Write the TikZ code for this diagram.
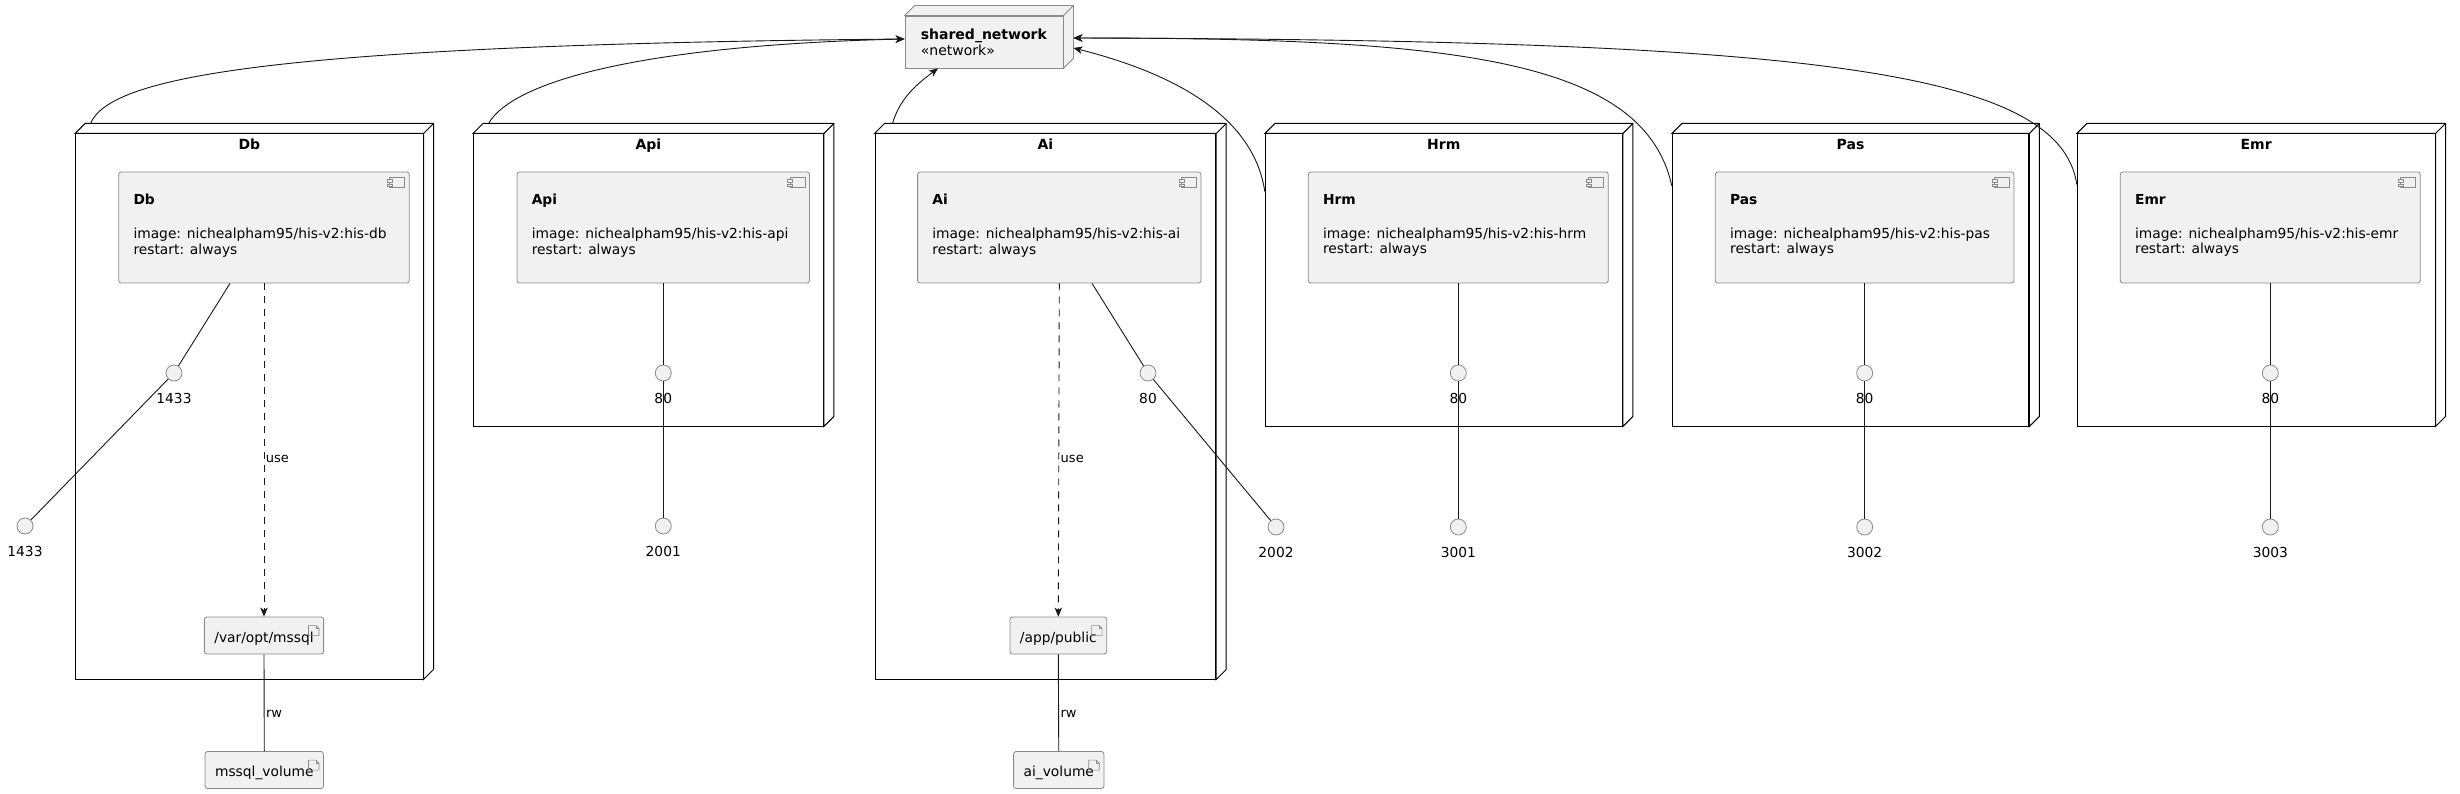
\documentclass[tikz,border=0pt]{standalone}
\usepackage{fontspec}
\setmainfont{DejaVu Sans}
\usetikzlibrary{arrows.meta}
\definecolor{boxfill}{HTML}{F1F1F1}
\definecolor{edgegray}{HTML}{8A8A8A}
\definecolor{linecol}{HTML}{181818}
\newcommand\fsz[1]{\fontsize{#1}{15.6}\selectfont}
\newcommand\threedfaces[2]{%
  \filldraw[#1] (#2.north west) -- ++(10,-10) -| ([shift={(10,-10)}]#2.south east) -- (#2.south east) -- (#2.north east) -- cycle;
  \draw[#1] (#2.north east) -- ++(10,-10);}
\newcommand\compicon[1]{%
  \draw[iconline] ([shift={(-20,5.5)}]#1.north east) rectangle ([shift={(-5,15.5)}]#1.north east);
  \filldraw[iconline, fill=boxfill] ([shift={(-22.5,8)}]#1.north east) rectangle ([shift={(-17.5,10.5)}]#1.north east);
  \filldraw[iconline, fill=boxfill] ([shift={(-22.5,12.5)}]#1.north east) rectangle ([shift={(-17.5,15)}]#1.north east);}
\newcommand\docicon[1]{%
  \draw[iconline] ([shift={(-15.5,9)}]#1.north east) -- ++(0,10) -- ++(10.5,0) -- ++(0,-7) -- ++(-3,-3) -- cycle;
  \draw[iconline] ([shift={(-8,9)}]#1.north east) -- ++(0,3) -- ++(3,0);}
\tikzset{
  box3d/.style={draw=black, line width=1pt, fill=white, inner sep=0pt},
  netbox/.style={draw=edgegray, line width=0.8pt, fill=boxfill, inner sep=0pt},
  comp/.style={draw=edgegray, fill=boxfill, rounded corners=2.5pt, line width=0.8pt, inner sep=0pt, minimum height=111pt},
  ctext/.style={anchor=north west, align=left, inner sep=0pt, font=\fsz{13.8}},
  ntitle/.style={anchor=north, inner sep=0pt, font=\bfseries\fsz{14}},
  iface/.style={circle, draw=edgegray, fill=boxfill, minimum size=16pt, inner sep=0pt, line width=0.8pt, label distance=0pt},
  ilabel/.style={inner sep=0pt, yshift=-11.7pt, font=\fsz{13.8}},
  art/.style={draw=edgegray, fill=boxfill, rounded corners=2.5pt, line width=0.8pt, minimum height=37pt, inner xsep=10pt, inner ysep=0pt, text height=16pt, text depth=3pt, font=\fsz{13.8}},
  iconline/.style={draw=edgegray, line width=0.7pt},
  conn/.style={draw=linecol, line width=0.9pt},
  arr/.style={-{Stealth[length=9pt, width=7.5pt, inset=2.5pt]}},
  usedash/.style={dash pattern=on 7pt off 6pt},
  elabel/.style={anchor=west, inner sep=1.5pt, font=\fsz{13}},
}
\begin{document}
\begin{tikzpicture}[x=1pt, y=-1pt]
\fill[white] (0,0) rectangle (2460,794);
\useasboundingbox (0,0) rectangle (2460,794);

% shared network
\node[netbox, minimum width=158pt, minimum height=52pt, align=left, font=\fsz{14}] (sn) at (984,42) {\textbf{shared\_network}\\«network»};
\threedfaces{netbox}{sn}

% 3D nodes
\node[box3d, minimum width=347.3pt, minimum height=545pt] (dbn) at (249.35,406.5) {};
\node[box3d, minimum width=349.9pt, minimum height=292pt] (apin) at (648.45,280) {};
\node[box3d, minimum width=340.7pt, minimum height=545pt] (ain) at (1045.35,406.5) {};
\node[box3d, minimum width=357pt, minimum height=292pt] (hrmn) at (1443.8,280) {};
\node[box3d, minimum width=356.5pt, minimum height=292pt] (pasn) at (1850.55,280) {};
\node[box3d, minimum width=357.7pt, minimum height=292pt] (emrn) at (2256.15,280) {};
\threedfaces{box3d}{dbn}
\threedfaces{box3d}{apin}
\threedfaces{box3d}{ain}
\threedfaces{box3d}{hrmn}
\threedfaces{box3d}{pasn}
\threedfaces{box3d}{emrn}

\node[ntitle] (dbt) at ([shift={(0,5.5)}]dbn.north) {Db};
\node[ntitle] (apit) at ([shift={(0,5.5)}]apin.north) {Api};
\node[ntitle] (ait) at ([shift={(0,5.5)}]ain.north) {Ai};
\node[ntitle] (hrmt) at ([shift={(0,5.5)}]hrmn.north) {Hrm};
\node[ntitle] (past) at ([shift={(0,5.5)}]pasn.north) {Pas};
\node[ntitle] (emrt) at ([shift={(0,5.5)}]emrn.north) {Emr};

% components
\node[comp, minimum width=290.6pt] (dbc) at (264,227.5) {};
\node[comp, minimum width=292.5pt] (apic) at (663.25,227.5) {};
\node[comp, minimum width=283.4pt] (aic) at (1059.3,227.5) {};
\node[comp, minimum width=300pt] (hrmc) at (1458.3,227.5) {};
\node[comp, minimum width=298.7pt] (pasc) at (1864.65,227.5) {};
\node[comp, minimum width=300pt] (emrc) at (2270.3,227.5) {};
\compicon{dbc}
\compicon{apic}
\compicon{aic}
\compicon{hrmc}
\compicon{pasc}
\compicon{emrc}
\node[ctext] (dbtx) at ([shift={(15,22.4)}]dbc.north west) {\textbf{Db}\\[18.4pt]image: nichealpham95/his-v2:his-db\\restart: always};
\node[ctext] (apitx) at ([shift={(15,22.4)}]apic.north west) {\textbf{Api}\\[18.4pt]image: nichealpham95/his-v2:his-api\\restart: always};
\node[ctext] (aitx) at ([shift={(15,22.4)}]aic.north west) {\textbf{Ai}\\[18.4pt]image: nichealpham95/his-v2:his-ai\\restart: always};
\node[ctext] (hrmtx) at ([shift={(15,22.4)}]hrmc.north west) {\textbf{Hrm}\\[18.4pt]image: nichealpham95/his-v2:his-hrm\\restart: always};
\node[ctext] (pastx) at ([shift={(15,22.4)}]pasc.north west) {\textbf{Pas}\\[18.4pt]image: nichealpham95/his-v2:his-pas\\restart: always};
\node[ctext] (emrtx) at ([shift={(15,22.4)}]emrc.north west) {\textbf{Emr}\\[18.4pt]image: nichealpham95/his-v2:his-emr\\restart: always};

% interfaces
\node[iface, label={[ilabel]below:1433}] (dbi) at (174,373) {};
\node[iface, label={[ilabel]below:1433}] (dbx) at (25,526) {};
\node[iface, label={[ilabel]below:80}] (apii) at (663.25,373) {};
\node[iface, label={[ilabel]below:2001}] (apix) at (663.25,526) {};
\node[iface, label={[ilabel]below:80}] (aii) at (1148,373) {};
\node[iface, label={[ilabel]below:2002}] (aix) at (1276,527) {};
\node[iface, label={[ilabel]below:80}] (hrmi) at (1458.3,373) {};
\node[iface, label={[ilabel]below:3001}] (hrmx) at (1458.3,527) {};
\node[iface, label={[ilabel]below:80}] (pasi) at (1864.65,373) {};
\node[iface, label={[ilabel]below:3002}] (pasx) at (1864.65,527) {};
\node[iface, label={[ilabel]below:80}] (emri) at (2270.3,373) {};
\node[iface, label={[ilabel]below:3003}] (emrx) at (2270.3,527) {};

% artifacts
\node[art] (dbv) at (264,635.5) {/var/opt/mssql\hspace{6.5pt}};
\node[art] (dbvol) at (264.3,770) {mssql\_volume\hspace{7.5pt}};
\node[art] (aiv) at (1058.3,635.5) {/app/public\hspace{7pt}};
\node[art] (aivol) at (1058.75,770) {ai\_volume\hspace{7pt}};
\docicon{dbv}
\docicon{dbvol}
\docicon{aiv}
\docicon{aivol}

% connectors inside
\draw[conn] ([shift={(-34,0)}]dbc.south) -- (dbi);
\draw[conn] (dbi) -- (dbx);
\draw[conn, usedash, arr] (dbc.south) -- node[elabel, pos=0.527] (dbuse) {use} (dbv.north);
\draw[conn] (dbv.south) -- node[elabel, pos=0.61] (dbrw) {rw} (dbvol.north);

\draw[conn] (apic.south) -- (apii);
\draw[conn] (apii) -- (apix);

\draw[conn] ([shift={(32.7,0)}]aic.south) -- (aii);
\draw[conn] (aii) -- (aix);
\draw[conn, usedash, arr] (aic.south) -- node[elabel, pos=0.527] (aiuse) {use} (aiv.north);
\draw[conn] (aiv.south) -- node[elabel, pos=0.61] (airw) {rw} (aivol.north);

\draw[conn] (hrmc.south) -- (hrmi);
\draw[conn] (hrmi) -- (hrmx);
\draw[conn] (pasc.south) -- (pasi);
\draw[conn] (pasi) -- (pasx);
\draw[conn] (emrc.south) -- (emri);
\draw[conn] (emri) -- (emrx);

% network links
\draw[conn, arr] ([shift={(15.3,-10)}]dbn.north west) .. controls +(19,-44) and +(-655,6) .. ([shift={(0,-3)}]sn.west);
\draw[conn, arr] ([shift={(15.5,-10)}]apin.north west) .. controls +(25.5,-44) and +(-255,6) .. ([shift={(0,-3)}]sn.west);
\draw[conn, arr] ([shift={(18,-10)}]ain.north west) .. controls +(7,-24) and +(-23,17) .. ([shift={(-46,0)}]sn.south);
\draw[conn, arr] ([shift={(0,58)}]hrmn.north west) .. controls +(-10.7,-72) and +(107,27) .. ([shift={(10,6)}]sn.east);
\draw[conn, arr] ([shift={(0,52.4)}]pasn.north west) .. controls +(-28,-128) and +(377,0) .. ([shift={(10,-4)}]sn.east);
\draw[conn, arr] ([shift={(0,51)}]emrn.north west) .. controls +(-17,-116) and +(727,2) .. ([shift={(10,-4)}]sn.east);
\end{tikzpicture}
\end{document}
